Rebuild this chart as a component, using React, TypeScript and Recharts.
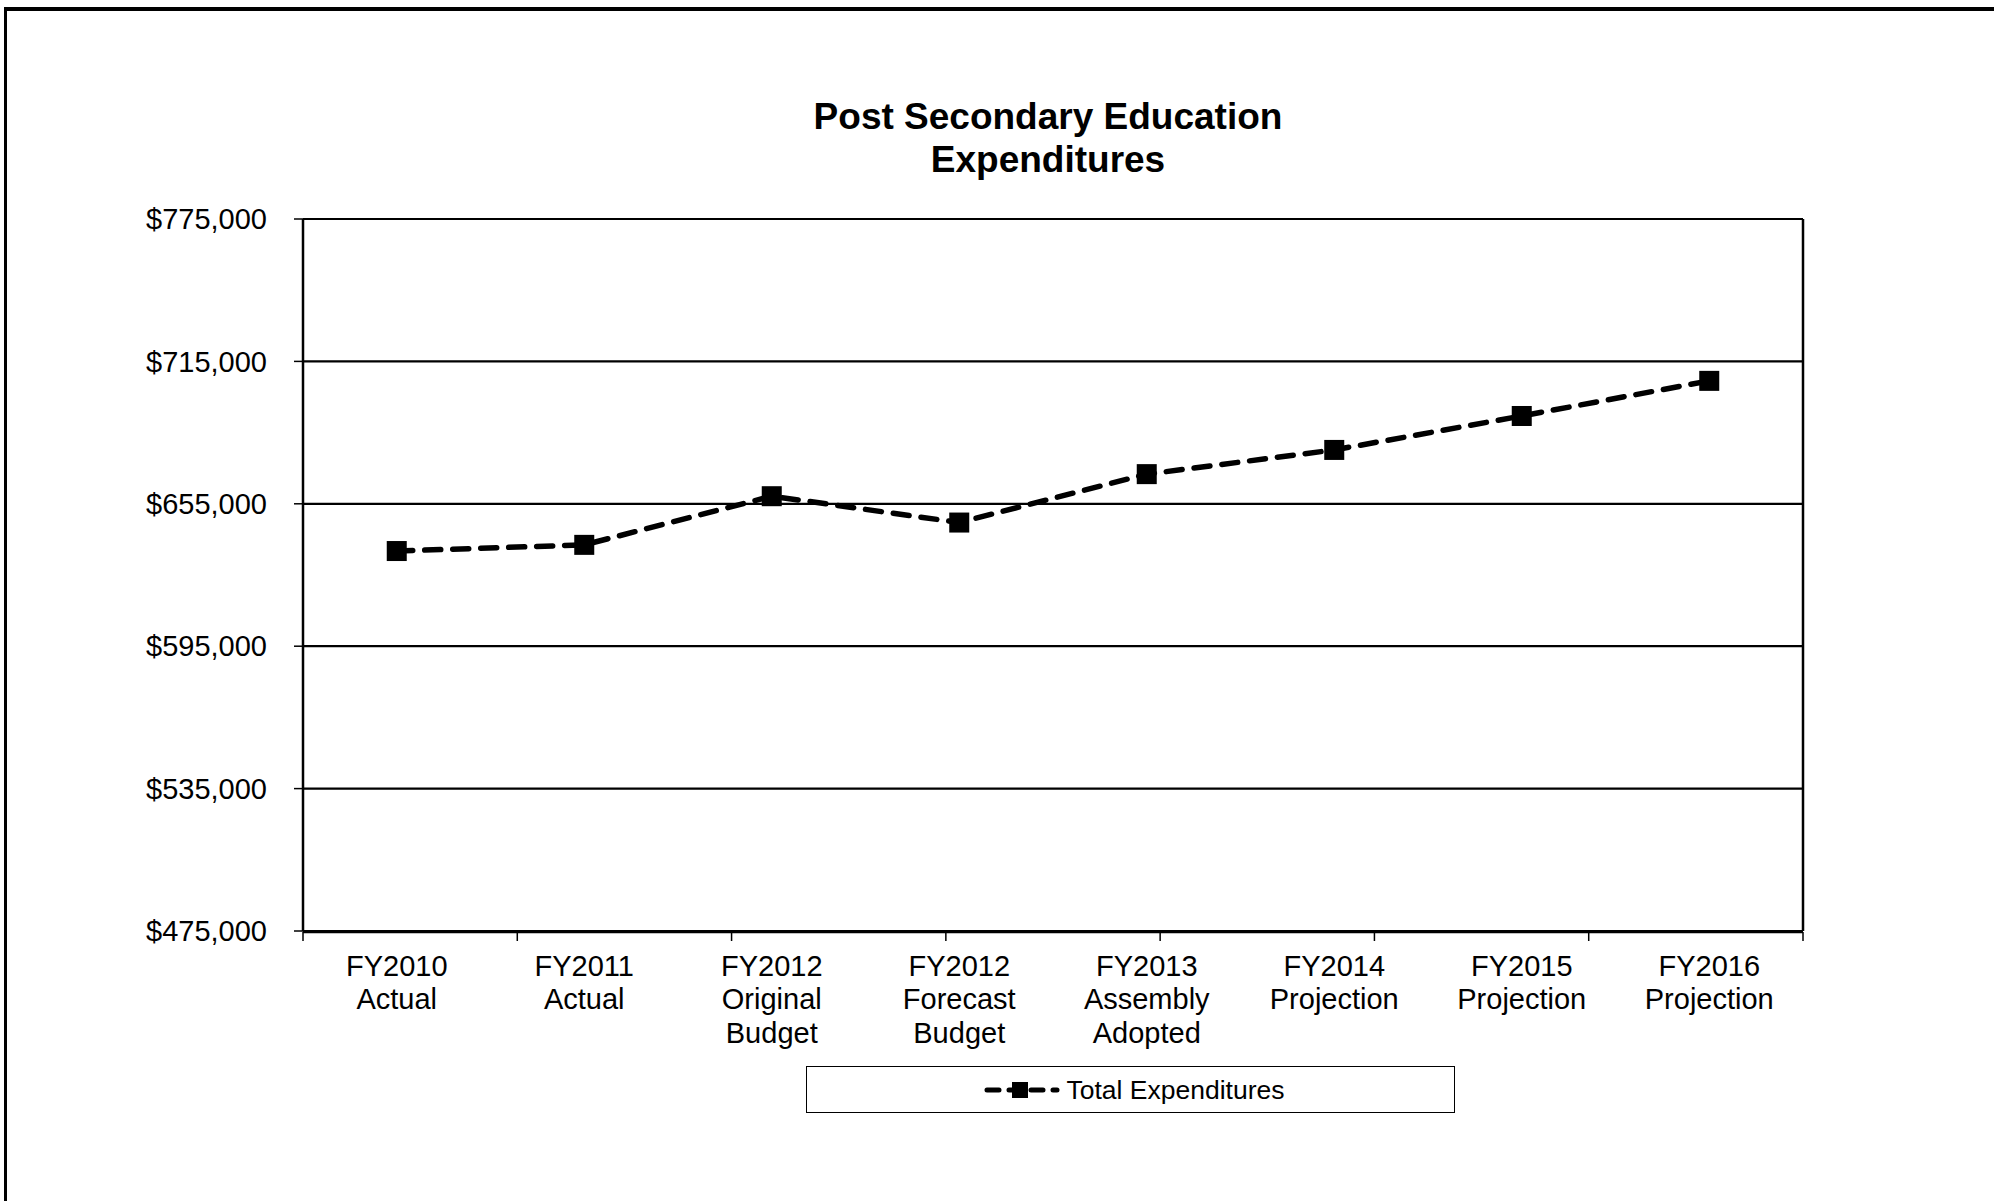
import React from 'react';
import { ComposedChart, Line, XAxis, YAxis, CartesianGrid, Legend } from 'recharts';

const categories = [
  'FY2010\nActual',
  'FY2011\nActual',
  'FY2012\nOriginal\nBudget',
  'FY2012\nForecast\nBudget',
  'FY2013\nAssembly\nAdopted',
  'FY2014\nProjection',
  'FY2015\nProjection',
  'FY2016\nProjection',
];
const totalExpenditures = [635100, 637700, 658200, 647100, 667500, 677700, 692000, 706800];
const yTicks = [475000, 535000, 595000, 655000, 715000, 775000];
const boundaryTicks = [0, 1, 2, 3, 4, 5, 6, 7, 8];
const seriesName = 'Total Expenditures';
const titleLines = ['Post Secondary Education', 'Expenditures'];

const data = categories.map((c, i) => ({ name: c, total: totalExpenditures[i] }));

const FONT = '"Liberation Sans", Arial, Helvetica, sans-serif';

const fmt = (v: number) => '$' + v.toLocaleString('en-US');

const XLabel = (props: any) => {
  const { x, y, payload } = props;
  const lines = String(payload.value).split('\n');
  return (
    <text x={x} y={y} textAnchor="middle" fontFamily={FONT} fontSize={29} fill="#000">
      {lines.map((l, i) => (
        <tspan key={i} x={x} y={y + 45 + i * 33.3}>
          {l}
        </tspan>
      ))}
    </text>
  );
};

const NoLabel = () => <g />;

const SquareDot = (props: any) => {
  const { cx, cy, index } = props;
  if (cx == null || cy == null) return <g key={`d${index}`} />;
  return <rect key={`d${index}`} x={cx - 10} y={cy - 10} width={20} height={20} fill="#000" />;
};

const LegendContent = () => (
  <div
    style={{
      width: '100%',
      height: '100%',
      boxSizing: 'border-box',
      border: '1.5px solid #000',
      background: '#fff',
      display: 'flex',
      alignItems: 'center',
      justifyContent: 'center',
      paddingLeft: 8,
    }}
  >
    <svg width={76} height={30} style={{ display: 'block' }}>
      <line x1={3} y1={15} x2={73} y2={15} stroke="#000" strokeWidth={5} strokeDasharray="12 10" strokeLinecap="round" />
      <rect x={28} y={7} width={16} height={16} fill="#000" />
    </svg>
    <span style={{ fontFamily: FONT, fontSize: 26.5, color: '#000', marginLeft: 6, lineHeight: '30px' }}>{seriesName}</span>
  </div>
);

export default function App() {
  return (
    <div style={{ position: 'absolute', left: 0, top: 0, width: 1994, height: 1201, overflow: 'hidden', background: '#fff' }}>
      <div
        style={{
          position: 'absolute',
          left: 4,
          top: 7,
          width: 2100,
          height: 1300,
          borderLeft: '3.5px solid #000',
          borderTop: '4px solid #000',
        }}
      />
      <div
        style={{
          position: 'absolute',
          left: 0,
          top: 0,
          width: 2096,
          textAlign: 'center',
          fontFamily: FONT,
          fontWeight: 'bold',
          fontSize: 37,
          color: '#000',
          zIndex: 2,
        }}
      >
        <div style={{ position: 'absolute', left: 0, width: 2096, top: 95, lineHeight: '43px' }}>
          {titleLines.map((t, i) => (
            <div key={i}>{t}</div>
          ))}
        </div>
      </div>
      <div style={{ position: 'absolute', left: 0, top: 0 }}>
        <ComposedChart width={1994} height={1201} data={data} margin={{ top: 219, right: 0, bottom: 268, left: 0 }}>
          <CartesianGrid vertical={false} stroke="#000" strokeWidth={2.2} />
          <XAxis
            xAxisId="bounds"
            type="number"
            domain={[0, 8]}
            allowDataOverflow
            ticks={boundaryTicks}
            interval={0}
            height={1}
            tick={<NoLabel />}
            tickSize={9}
            tickLine={{ stroke: '#000', strokeWidth: 1.5 }}
            axisLine={{ stroke: '#000', strokeWidth: 2.5 }}
          />
          <XAxis
            dataKey="name"
            scale="band"
            height={1}
            tickLine={false}
            axisLine={false}
            tickSize={0}
            tickMargin={0}
            interval={0}
            tick={<XLabel />}
          />
          <YAxis
            domain={[475000, 775000]}
            ticks={yTicks}
            interval={0}
            width={303}
            tickSize={9}
            tickMargin={27}
            tickFormatter={fmt}
            tick={{ fontFamily: FONT, fontSize: 29, fill: '#000' }}
            tickLine={{ stroke: '#000', strokeWidth: 1.5 }}
            axisLine={{ stroke: '#000', strokeWidth: 2.5 }}
          />
          <YAxis
            yAxisId="right"
            orientation="right"
            domain={[475000, 775000]}
            width={191}
            tick={false}
            tickLine={false}
            axisLine={{ stroke: '#000', strokeWidth: 2.5 }}
          />
          <Legend
            verticalAlign="middle"
            align="center"
            layout="horizontal"
            content={<LegendContent />}
            wrapperStyle={{ left: 806, top: 1066, width: 649, height: 47 }}
          />
          <Line
            type="linear"
            dataKey="total"
            name={seriesName}
            stroke="#000"
            strokeWidth={5.5}
            strokeDasharray="16 12"
            strokeLinecap="round"
            dot={SquareDot}
            activeDot={false}
            isAnimationActive={false}
          />
        </ComposedChart>
      </div>
    </div>
  );
}
